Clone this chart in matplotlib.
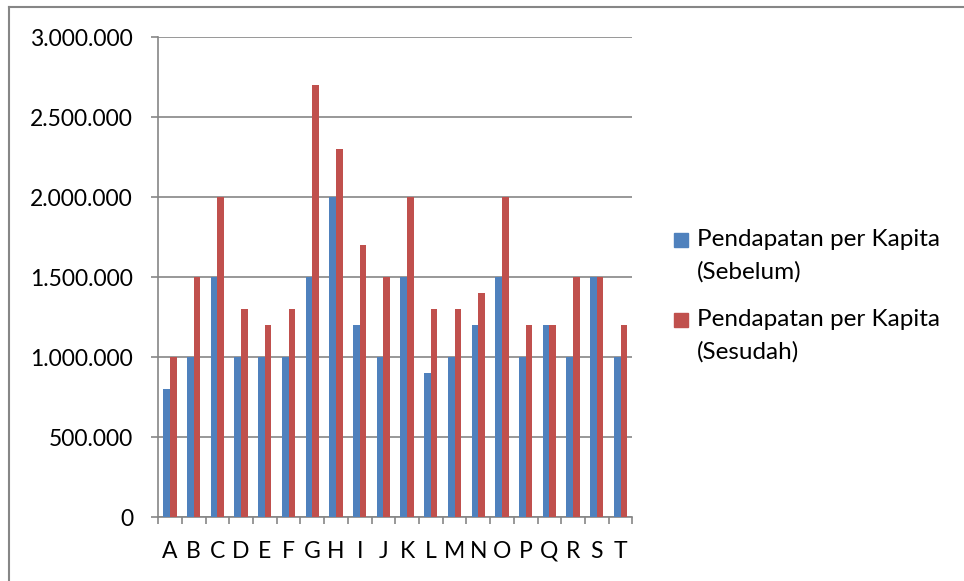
import matplotlib.pyplot as plt
import matplotlib.patches as mpatches
import numpy as np

plt.rcParams['font.family'] = ['Lato', 'DejaVu Sans']

categories = ['A', 'B', 'C', 'D', 'E', 'F', 'G', 'H', 'I', 'J',
              'K', 'L', 'M', 'N', 'O', 'P', 'Q', 'R', 'S', 'T']
sebelum = [800000, 1000000, 1500000, 1000000, 1000000, 1000000, 1500000, 2000000, 1200000, 1000000,
           1500000, 900000, 1000000, 1200000, 1500000, 1000000, 1200000, 1000000, 1500000, 1000000]
sesudah = [1000000, 1500000, 2000000, 1300000, 1200000, 1300000, 2700000, 2300000, 1700000, 1500000,
           2000000, 1300000, 1300000, 1400000, 2000000, 1200000, 1200000, 1500000, 1500000, 1200000]
yticks = [0, 500000, 1000000, 1500000, 2000000, 2500000, 3000000]
labels = ['Pendapatan per Kapita\n(Sebelum)', 'Pendapatan per Kapita\n(Sesudah)']

blue = '#4F81BD'
red = '#C0504D'
grey = '#868686'

fig = plt.figure(figsize=(9.64, 5.81), dpi=100)
ax = fig.add_axes([0.164, 0.110, 0.492, 0.826])

x = np.arange(len(categories))
w = 0.28
ax.bar(x - w / 2, sebelum, w, color=blue, zorder=3)
ax.bar(x + w / 2, sesudah, w, color=red, zorder=3)

ax.set_xlim(-0.5, len(categories) - 0.5)
ax.set_ylim(0, 3000000)
ax.set_yticks(yticks)
ax.set_yticklabels(['{:,}'.format(v).replace(',', '.') for v in yticks])
ax.yaxis.grid(True, color=grey, linewidth=1.2, zorder=0)

ax.set_xticks(x)
ax.set_xticklabels(categories)
ax.set_xticks(np.arange(-0.5, len(categories)), minor=True)
ax.tick_params(axis='x', which='major', length=0, pad=17, labelsize=16.5)
ax.tick_params(axis='x', which='minor', length=5, color=grey, width=1.2)
ax.tick_params(axis='y', length=5, color=grey, width=1.2, labelsize=16.5, pad=13)

for s in ['top', 'right']:
    ax.spines[s].set_visible(False)
for s in ['left', 'bottom']:
    ax.spines[s].set_color(grey)
    ax.spines[s].set_linewidth(1.2)

# legend drawn by hand so the square sits on the first line of each label
W, H = 964.0, 581.0
for i, (lab, col) in enumerate(zip(labels, [blue, red])):
    y0 = 240 + i * 80
    fig.patches.append(mpatches.Rectangle((674 / W, 1 - (y0 + 7) / H), 14 / W, 14 / H,
                                          transform=fig.transFigure, color=col))
    for j, line in enumerate(lab.split('\n')):
        fig.text(697 / W, 1 - (y0 + j * 32) / H, line, fontsize=17.5, va='center', ha='left')

# chart frame (only left and top edges fall inside the picture)
fig.add_artist(plt.Line2D([9 / W, 9 / W], [0, 1 - 7 / H], color=grey, linewidth=1.5))
fig.add_artist(plt.Line2D([9 / W, 1], [1 - 7 / H, 1 - 7 / H], color=grey, linewidth=1.5))

fig.savefig('out.png', dpi=100)
